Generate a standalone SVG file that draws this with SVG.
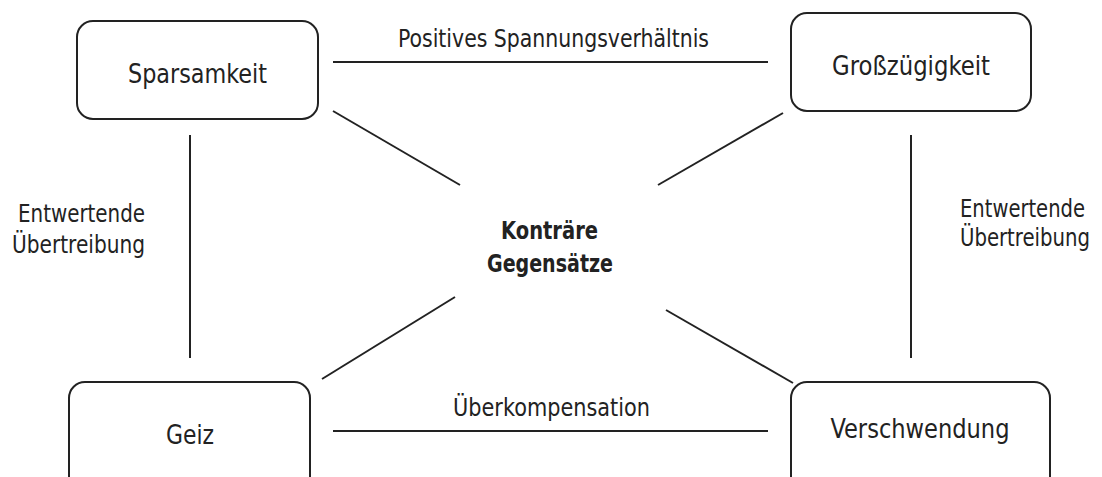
<svg xmlns="http://www.w3.org/2000/svg" width="1102" height="477" viewBox="0 0 1102 477">
  <style>
    .box { fill: #ffffff; stroke: #222222; stroke-width: 2; }
    .lbl { font-family: "DejaVu Sans Condensed", "DejaVu Sans", "Liberation Sans", sans-serif; font-size: 24px; fill: #222222; }
    .node { text-anchor: middle; font-size: 26px; }
    .center { font-family: "DejaVu Sans Condensed", "DejaVu Sans", "Liberation Sans", sans-serif; font-size: 24px; font-weight: bold; fill: #222222; text-anchor: middle; }
    .conn line { stroke: #222222; stroke-width: 2; }
  </style>
  <rect width="1102" height="477" fill="#ffffff"/>

  <!-- connectors -->
  <g id="connectors" class="conn">
    <line x1="333" y1="62" x2="768" y2="62"/>
    <line x1="333" y1="431" x2="768" y2="431"/>
    <line x1="190" y1="135" x2="190" y2="358"/>
    <line x1="911" y1="135" x2="911" y2="358"/>
    <line x1="333" y1="111" x2="460" y2="185"/>
    <line x1="783" y1="113" x2="658" y2="185"/>
    <line x1="322" y1="379" x2="455" y2="297"/>
    <line x1="793" y1="383" x2="666" y2="310"/>
  </g>

  <!-- edge labels -->
  <g id="edge-labels">
    <text class="lbl" x="398" y="47" textLength="311" lengthAdjust="spacingAndGlyphs">Positives Spannungsverhältnis</text>
    <text class="lbl" x="453" y="416" textLength="197" lengthAdjust="spacingAndGlyphs">Überkompensation</text>
    <text class="lbl" x="18" y="222" textLength="127" lengthAdjust="spacingAndGlyphs">Entwertende</text>
    <text class="lbl" x="12" y="253" textLength="133" lengthAdjust="spacingAndGlyphs">Übertreibung</text>
    <text class="lbl" x="960" y="217" textLength="125" lengthAdjust="spacingAndGlyphs">Entwertende</text>
    <text class="lbl" x="960" y="246" textLength="130" lengthAdjust="spacingAndGlyphs">Übertreibung</text>
  </g>

  <g id="node-sparsamkeit">
    <rect class="box" x="77" y="21" width="241" height="98" rx="16"/>
    <text class="lbl node" x="197.5" y="83" textLength="139" lengthAdjust="spacingAndGlyphs">Sparsamkeit</text>
  </g>
  <g id="node-grosszuegigkeit">
    <rect class="box" x="791" y="13" width="240" height="98" rx="16"/>
    <text class="lbl node" x="911" y="75" textLength="158" lengthAdjust="spacingAndGlyphs">Großzügigkeit</text>
  </g>
  <g id="node-geiz">
    <rect class="box" x="69" y="382" width="241" height="110" rx="16"/>
    <text class="lbl node" x="190" y="444" textLength="48" lengthAdjust="spacingAndGlyphs">Geiz</text>
  </g>
  <g id="node-verschwendung">
    <rect class="box" x="791" y="382" width="259" height="110" rx="16"/>
    <text class="lbl node" x="920" y="438" textLength="179" lengthAdjust="spacingAndGlyphs">Verschwendung</text>
  </g>

  <g id="node-center">
    <text class="center" x="549.5" y="239" textLength="97" lengthAdjust="spacingAndGlyphs">Konträre</text>
    <text class="center" x="550" y="272" textLength="126" lengthAdjust="spacingAndGlyphs">Gegensätze</text>
  </g>
</svg>
